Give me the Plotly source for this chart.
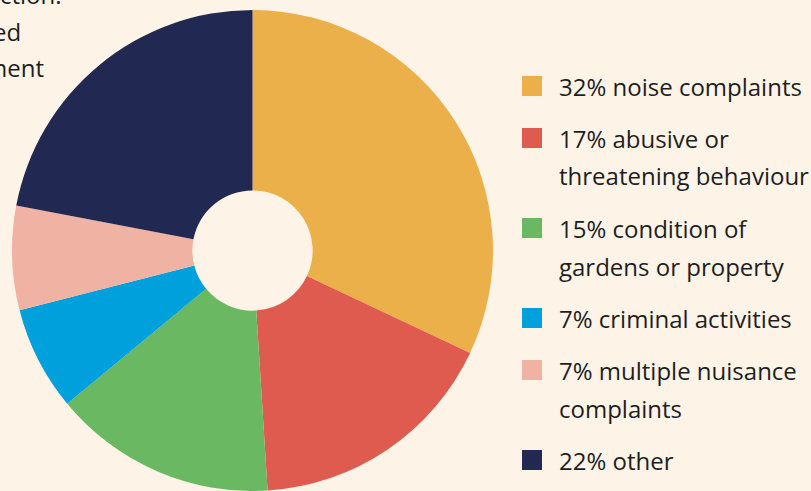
import plotly.graph_objects as go

# ---- data ----
categories = ["noise complaints", "abusive or threatening behaviour", "condition of gardens or property",
              "criminal activities", "multiple nuisance complaints", "other"]
values = [32, 17, 15, 7, 7, 22]
label_lines = [["32% noise complaints"],
               ["17% abusive or", "threatening behaviour"],
               ["15% condition of", "gardens or property"],
               ["7% criminal activities"],
               ["7% multiple nuisance", "complaints"],
               ["22% other"]]
colors = ["#ECB04A", "#E05B4F", "#6BB863", "#00A0DC", "#F0B2A3", "#212952"]
side_text = ["ction.", "ed", "ment"]
side_text_end = [62, 21, 44]

W, H = 811, 491
BG = "#FDF4E7"
FONT = "Open Sans"

fig = go.Figure()
fig.add_trace(go.Pie(
    labels=categories, values=values, sort=False, direction="clockwise", rotation=0,
    hole=0.25, marker=dict(colors=colors, line=dict(width=0)),
    textinfo="none", hoverinfo="label+percent", showlegend=False,
    domain=dict(x=[12 / W, 493 / W], y=[0, 1 - 10 / H]),
))

def px_x(x):
    return x / W

def px_y(y):
    return 1 - y / H

shapes = []
annotations = []
y = 86
for lines, col in zip(label_lines, colors):
    shapes.append(dict(type="rect", xref="paper", yref="paper",
                       x0=px_x(522), x1=px_x(542), y0=px_y(y - 10), y1=px_y(y + 10),
                       fillcolor=col, line=dict(width=0)))
    for i, ln in enumerate(lines):
        annotations.append(dict(text=ln, xref="paper", yref="paper", x=px_x(557), y=px_y(y + 38 * i),
                                xanchor="left", yanchor="middle", showarrow=False,
                                font=dict(family=FONT, size=24, color="#1E1E1E")))
    y += 38 * (len(lines) - 1) + 52

for i, (t, xe) in enumerate(zip(side_text, side_text_end)):
    annotations.append(dict(text=t, xref="paper", yref="paper", x=px_x(xe + 2), y=px_y(-6 + 37 * i),
                            xanchor="right", yanchor="middle", showarrow=False,
                            font=dict(family=FONT, size=24, color="#1E1E1E")))

fig.update_layout(width=W, height=H, margin=dict(l=0, r=0, t=0, b=0),
                  paper_bgcolor=BG, plot_bgcolor=BG, shapes=shapes, annotations=annotations)
fig.write_html("out.html")
